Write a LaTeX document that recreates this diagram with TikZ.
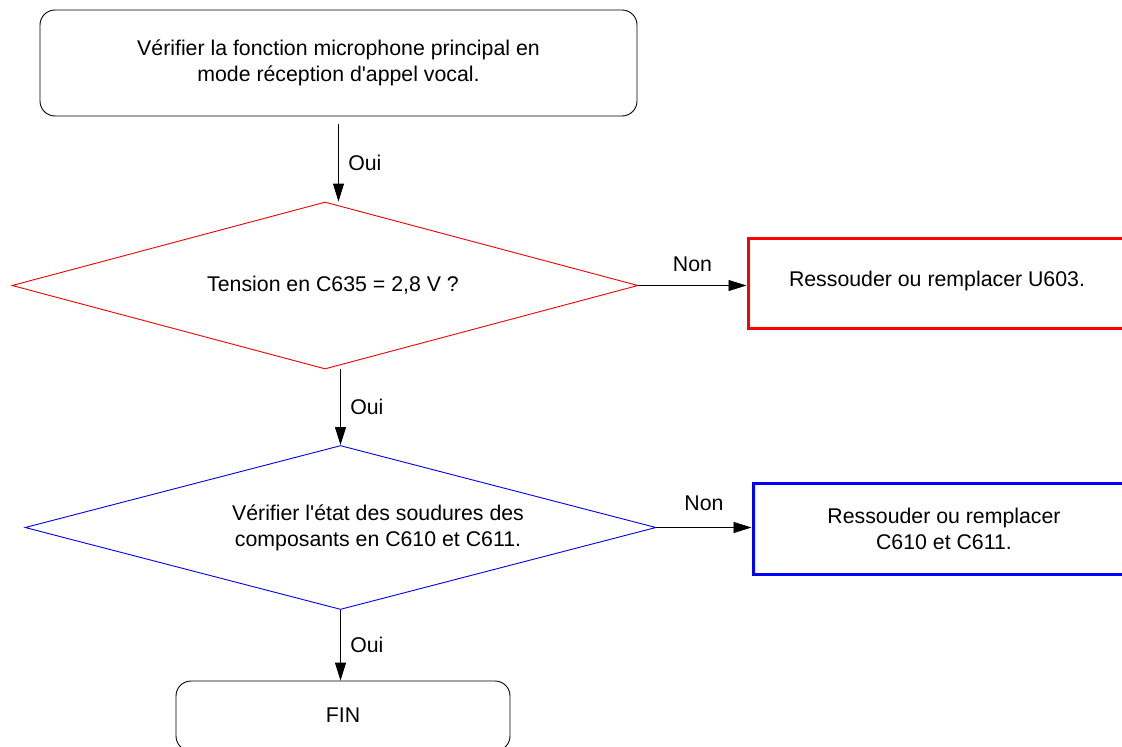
\documentclass[tikz,border=0pt]{standalone}
\usepackage{fontspec}
\setmainfont{Liberation Sans}[Ligatures=TeXOff]
\usetikzlibrary{shapes.geometric,arrows.meta,calc}

\tikzset{
  txt/.style={font=\fontsize{21.3}{25.5}\selectfont, align=center},
  startbox/.style={draw, rounded corners=15, line width=0.9, inner sep=0},
  dia/.style={diamond, draw, line width=0.9, inner sep=0},
  fixbox/.style={draw, line width=3, inner sep=0},
  arr/.style={-{Triangle[length=18,width=11]}, line width=0.9},
  lbl/.style={font=\fontsize{21.3}{24}\selectfont}
}

\begin{document}
\begin{tikzpicture}[x=1pt,y=-1pt]
 \useasboundingbox (0,0) rectangle (1122,747);
 \clip (0,0) rectangle (1122,747);

 % start box
 \node[startbox, minimum width=597, minimum height=106] (verif) at (338.5,63) {};
 \node[txt] (veriftxt) at (338.5,63) {V\'erifier la fonction microphone principal en\\mode r\'eception d'appel vocal.};

 % first test (red)
 \node[dia, red, minimum width=626, minimum height=167] (tension) at (325,285.5) {};
 \node[txt] (tensiontxt) at (333,285) {Tension en C635 = 2,8 V ?};
 \node[fixbox, red, minimum width=378, minimum height=90] (u603) at (937,283) {};
 \node[txt] (u603txt) at (937,281) {Ressouder ou remplacer U603.};

 % second test (blue)
 \node[dia, blue, minimum width=631, minimum height=164] (soudure) at (340.5,527.5) {};
 \node[txt] (soudtxt) at (378,528) {V\'erifier l'\'etat des soudures des\\composants en C610 et C611.};
 \node[fixbox, blue, minimum width=382, minimum height=91] (c610) at (944,528.5) {};
 \node[txt] (c610txt) at (944,529) {Ressouder ou remplacer\\C610 et C611.};

 % end
 \node[startbox, minimum width=334, minimum height=70] (fin) at (343,716) {};
 \node[txt] (fintxt) at (343,715) {FIN};

 % connectors
 \draw[arr] ([yshift=-8]verif.south) -- (verif.south |- tension.north) node[lbl, midway, right=6] {Oui};
 \draw[arr] (tension.east) -- (tension.east -| u603.west) node[lbl, midway, above=10] {Non};
 \draw[arr] (soudure.north |- tension.south) -- (soudure.north) node[lbl, midway, right=6] {Oui};
 \draw[arr] (soudure.east) -- (soudure.east -| c610.west) node[lbl, midway, above=13] {Non};
 \draw[arr] (soudure.south) -- (soudure.south |- fin.north) node[lbl, midway, right=6] {Oui};

\end{tikzpicture}
\end{document}
